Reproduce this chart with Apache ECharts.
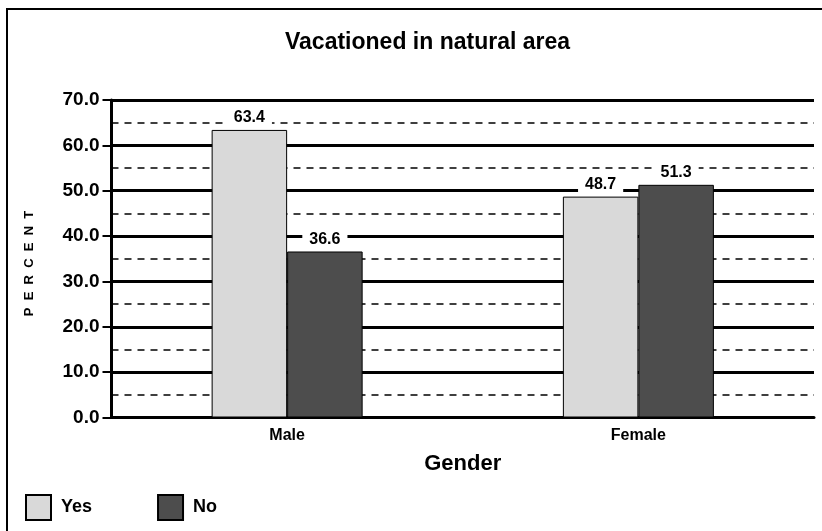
<!DOCTYPE html>
<html><head><meta charset="utf-8">
<script src="https://cdn.jsdelivr.net/npm/echarts@6/dist/echarts.min.js"></script>
<style>html,body{margin:0;padding:0;background:#fff}#c{width:822px;height:531px}</style>
</head><body><div id="c"></div>
<script>
var categories = ['Male', 'Female'];
var yesValues = [63.4, 48.7];
var noValues = [36.6, 51.3];
var seriesNames = ['Yes', 'No'];

var chart = echarts.init(document.getElementById('c'));
var FF = '"Liberation Sans", Arial, sans-serif';
function lab() {
  return {show: true, position: 'top', distance: 4, fontFamily: FF, fontWeight: 'bold', fontSize: 16, color: '#000',
    backgroundColor: '#fff', padding: [1, 7, 0, 7], formatter: function(p){ return p.value.toFixed(1); }};
}
chart.setOption({
  animation: false,
  textStyle: {fontFamily: FF},
  title: {text: 'Vacationed in natural area', left: 285, top: 31, padding: 0,
    textStyle: {fontFamily: FF, fontWeight: 'bold', fontSize: 23, color: '#000'}},
  graphic: [
    {type: 'rect', shape: {x: 7, y: 9, width: 900, height: 600}, style: {fill: 'none', stroke: '#000', lineWidth: 2}, z: -1},
    {type: 'text', x: 29, y: 263.5, rotation: Math.PI / 2,
     style: {text: 'P  E  R  C  E  N  T', fill: '#000', font: 'bold 13px "Liberation Sans", Arial, sans-serif', align: 'center', verticalAlign: 'middle'}}
  ],
  legend: {left: 25, top: 494, padding: 0, itemWidth: 25, itemHeight: 25, itemGap: 65, icon: 'rect',
    textStyle: {fontFamily: FF, fontWeight: 'bold', fontSize: 18, color: '#000', padding: [0, 0, 0, 5]},
    data: seriesNames},
  grid: {left: 111.5, right: 8, top: 100, bottom: 113.5},
  xAxis: {type: 'category', data: categories,
    axisLine: {lineStyle: {color: '#000', width: 3}}, axisTick: {show: false},
    axisLabel: {fontFamily: FF, fontWeight: 'bold', fontSize: 16, color: '#000', margin: 10},
    name: 'Gender', nameLocation: 'middle', nameGap: 35,
    nameTextStyle: {fontFamily: FF, fontWeight: 'bold', fontSize: 22, color: '#000'}},
  yAxis: {type: 'value', min: 0, max: 70, interval: 10,
    axisLine: {show: true, lineStyle: {color: '#000', width: 3}},
    axisTick: {show: true, length: 9, lineStyle: {color: '#000', width: 2}},
    axisLabel: {fontFamily: FF, fontWeight: 'bold', fontSize: 19, color: '#000', margin: 12,
      formatter: function(v){ return v.toFixed(1); }},
    splitLine: {show: true, lineStyle: {color: '#000', width: 3}},
    minorTick: {show: false, splitNumber: 2},
    minorSplitLine: {show: true, lineStyle: {color: '#000', width: 1.5, type: [7, 6]}}},
  series: [
    {name: seriesNames[0], type: 'bar', data: yesValues, barWidth: 75.5, barGap: '0%',
     itemStyle: {color: '#d9d9d9', borderColor: '#000', borderWidth: 1}, label: lab()},
    {name: seriesNames[1], type: 'bar', data: noValues, barWidth: 75.5, barGap: '0%',
     itemStyle: {color: '#4d4d4d', borderColor: '#000', borderWidth: 1}, label: lab()}
  ]
});
</script></body></html>
